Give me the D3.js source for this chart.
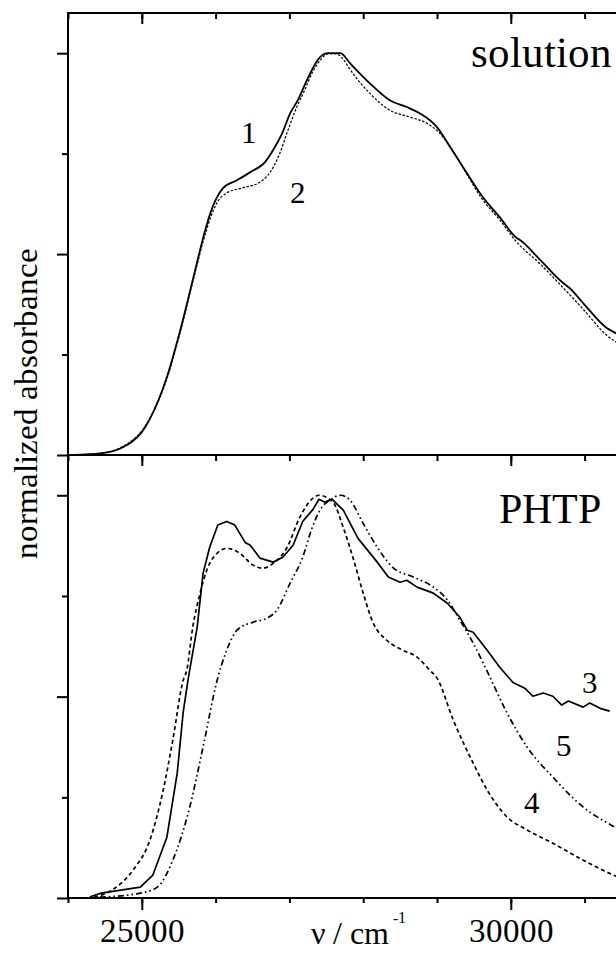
<!DOCTYPE html>
<html>
<head>
<meta charset="utf-8">
<script src="https://cdn.jsdelivr.net/npm/d3@7"></script>
<style>
  @font-face {
    font-family: "ChartSerif";
    src: local("Liberation Serif"), local("LiberationSerif"), local("LiberationSerif-Regular"),
         local("DejaVu Serif"), local("DejaVuSerif"), local("Times New Roman"), local("Tinos"),
         local("Noto Serif"), local("NotoSerif-Regular"), local("FreeSerif");
  }
  body { margin: 0; background: #fff; }
  svg { display: block; }
</style>
</head>
<body>
<svg id="chart" width="616" height="953"></svg>
<script>
// Wavenumber axis (cm^-1)
const xMajorTicks = [25000, 30000];
const xMinorTicks = d3.range(24000, 32001, 1000);
const yMajorTicks = [0, 0.5, 1.0];
const yMinorTicks = [0.25, 0.75];

// Panel titles and curve numbers
const panelTitles = ["solution", "PHTP"];
const curveNumbers = ["1", "2", "3", "4", "5"];

// Solution spectra: [wavenumber, normalized absorbance]
const solution1 = [
  [24000, 0], [24300, 0.002], [24600, 0.009], [24750, 0.02], [24880, 0.035],
  [25000, 0.057], [25110, 0.09], [25340, 0.194], [25520, 0.31], [25690, 0.435],
  [25860, 0.56], [25920, 0.597], [26100, 0.664], [26290, 0.684], [26470, 0.704],
  [26670, 0.729], [26780, 0.759], [26900, 0.80], [27010, 0.85], [27120, 0.885],
  [27230, 0.93], [27415, 0.99], [27520, 1.0], [27690, 1.0], [27820, 0.975],
  [28090, 0.925], [28360, 0.883], [28590, 0.866], [28770, 0.85], [29000, 0.816],
  [29180, 0.766], [29410, 0.70], [29620, 0.642], [29850, 0.592], [30080, 0.54],
  [30125, 0.535], [30400, 0.485], [30710, 0.428], [30800, 0.415], [30980, 0.378],
  [31300, 0.316], [31425, 0.303], [31700, 0.275]
];
const solution2 = [
  [24000, 0], [24300, 0.002], [24600, 0.010], [24750, 0.022], [24880, 0.038],
  [25000, 0.06], [25110, 0.092], [25340, 0.19], [25520, 0.305], [25690, 0.43],
  [25860, 0.55], [25930, 0.59], [26020, 0.628], [26150, 0.652], [26370, 0.665],
  [26600, 0.679], [26740, 0.704], [26870, 0.751], [26980, 0.808], [27100, 0.866],
  [27200, 0.905], [27320, 0.955], [27420, 0.983], [27520, 0.998], [27640, 0.998],
  [27740, 0.982], [27820, 0.96], [28090, 0.90], [28360, 0.858], [28630, 0.841],
  [28860, 0.826], [29040, 0.80], [29210, 0.759], [29400, 0.70], [29600, 0.64],
  [29850, 0.585], [30080, 0.53], [30400, 0.475], [30700, 0.418], [30980, 0.363],
  [31300, 0.298], [31425, 0.281], [31700, 0.25]
];

// PHTP film spectra
const phtp3 = [
  [24300, 0.003], [24450, 0.012], [24980, 0.027], [25150, 0.057], [25340, 0.151],
  [25480, 0.31], [25560, 0.46], [25630, 0.546], [25750, 0.672], [25830, 0.806],
  [25920, 0.871], [26030, 0.926], [26150, 0.935], [26260, 0.926], [26400, 0.883],
  [26470, 0.876], [26600, 0.844], [26780, 0.834], [26910, 0.846], [27050, 0.876],
  [27180, 0.935], [27320, 0.965], [27400, 0.99], [27480, 0.983], [27580, 0.99],
  [27730, 0.963], [27930, 0.893], [28190, 0.834], [28340, 0.797], [28500, 0.784],
  [28590, 0.789], [28730, 0.772], [28950, 0.757], [29140, 0.732], [29310, 0.697],
  [29410, 0.665], [29490, 0.66], [29680, 0.615], [29850, 0.573], [30030, 0.535],
  [30190, 0.521], [30300, 0.501], [30440, 0.509], [30570, 0.501], [30690, 0.479],
  [30780, 0.489], [30980, 0.474], [31070, 0.484], [31210, 0.471], [31340, 0.464]
];
const phtp4 = [
  [24260, 0.0], [24570, 0.017], [24880, 0.069], [25110, 0.144], [25290, 0.268],
  [25420, 0.392], [25560, 0.54], [25610, 0.566], [25690, 0.672], [25790, 0.757],
  [25880, 0.814], [26020, 0.856], [26150, 0.868], [26330, 0.856], [26510, 0.826],
  [26640, 0.819], [26780, 0.831], [26970, 0.871], [27140, 0.945], [27320, 0.993],
  [27400, 1.0], [27590, 0.983], [27730, 0.92], [27860, 0.846], [28000, 0.757],
  [28130, 0.685], [28320, 0.64], [28540, 0.615], [28730, 0.598], [28900, 0.566],
  [29000, 0.546], [29220, 0.442], [29490, 0.335], [29680, 0.268], [29950, 0.201],
  [30220, 0.169], [30570, 0.136], [30980, 0.094], [31390, 0.057], [31700, 0.035]
];
const phtp5 = [
  [24430, 0.002], [24980, 0.012], [25210, 0.027], [25420, 0.094], [25650, 0.226],
  [25830, 0.375], [26020, 0.54], [26150, 0.615], [26290, 0.665], [26510, 0.685],
  [26700, 0.695], [26830, 0.715], [27010, 0.782], [27180, 0.846], [27300, 0.915],
  [27420, 0.965], [27550, 0.988], [27690, 1.0], [27820, 0.988], [28000, 0.93],
  [28190, 0.871], [28400, 0.821], [28680, 0.797], [28950, 0.772], [29140, 0.74],
  [29310, 0.69], [29490, 0.633], [29700, 0.555], [29950, 0.459], [30220, 0.375],
  [30570, 0.30], [30980, 0.226], [31430, 0.174], [31700, 0.148]
];

const serifFont = "ChartSerif, 'Liberation Serif', 'LiberationSerif', 'Times New Roman', Times, Tinos, 'DejaVu Serif', 'Noto Serif', FreeSerif, serif";

const svg = d3.select("#chart").attr("font-family", serifFont);

const left = 68, right = 658.4;
const x = d3.scaleLinear().domain([24000, 32000]).range([left, right]);
const yTop = d3.scaleLinear().domain([0, 1.1]).range([455, 13]);
const yBot = d3.scaleLinear().domain([0, 1.1]).range([898, 455]);

const axisStroke = 2;

function styleAxis(g) {
  g.attr("font-family", serifFont);
  g.select(".domain").remove();
  g.selectAll(".tick line").attr("stroke", "#000").attr("stroke-width", axisStroke);
}

function addText(parent, str, px, py, size) {
  return parent.append("text")
    .attr("x", px).attr("y", py)
    .attr("font-family", serifFont)
    .attr("font-size", size)
    .attr("fill", "#000")
    .text(str);
}

// Horizontal tick rows (ticks pointing downward)
function xTickRow(yPos, minorLen, majorLen, withLabels) {
  const gMin = svg.append("g").attr("transform", `translate(0,${yPos})`)
    .call(d3.axisBottom(x).tickValues(xMinorTicks).tickSize(minorLen).tickFormat(""));
  styleAxis(gMin);
  const gMaj = svg.append("g").attr("transform", `translate(0,${yPos})`)
    .call(d3.axisBottom(x).tickValues(xMajorTicks).tickSize(majorLen)
      .tickFormat(withLabels ? d3.format("d") : ""));
  styleAxis(gMaj);
  if (withLabels) {
    gMaj.attr("font-size", 33);
    gMaj.selectAll(".tick text")
      .attr("y", 44).attr("dy", null)
      .attr("font-family", serifFont)
      .attr("font-size", 33)
      .attr("fill", "#000");
  }
}
xTickRow(13, 6, 11, false);
xTickRow(455, 6, 11, false);
xTickRow(898, 5, 12, true);

// Vertical tick columns on the left axis
function yTicks(scale) {
  const gMin = svg.append("g").attr("transform", `translate(${left},0)`)
    .call(d3.axisLeft(scale).tickValues(yMinorTicks).tickSize(6).tickFormat(""));
  styleAxis(gMin);
  const gMaj = svg.append("g").attr("transform", `translate(${left},0)`)
    .call(d3.axisLeft(scale).tickValues(yMajorTicks).tickSize(11).tickFormat(""));
  styleAxis(gMaj);
}
yTicks(yTop);
yTicks(yBot);

// Frame lines
const frame = svg.append("g").attr("stroke", "#000").attr("stroke-width", axisStroke).attr("fill", "none");
frame.append("line").attr("x1", left).attr("x2", right).attr("y1", yTop(1.1)).attr("y2", yTop(1.1));
frame.append("line").attr("x1", left).attr("x2", right).attr("y1", yTop(0)).attr("y2", yTop(0));
frame.append("line").attr("x1", left).attr("x2", right).attr("y1", yBot(0)).attr("y2", yBot(0));
frame.append("line").attr("x1", left).attr("x2", left).attr("y1", yTop(1.1) - 1).attr("y2", yBot(0) + 1);

// Clip regions for each panel
const defs = svg.append("defs");
defs.append("clipPath").attr("id", "clipTop").append("rect")
  .attr("x", left).attr("y", yTop(1.1)).attr("width", right - left).attr("height", yTop(0) - yTop(1.1));
defs.append("clipPath").attr("id", "clipBot").append("rect")
  .attr("x", left).attr("y", yBot(1.1)).attr("width", right - left).attr("height", yBot(0) - yBot(1.1));

function drawCurve(data, yScale, clip, width, dash, curve) {
  const line = d3.line().x(d => x(d[0])).y(d => yScale(d[1])).curve(curve);
  svg.append("path")
    .datum(data)
    .attr("clip-path", `url(#${clip})`)
    .attr("fill", "none")
    .attr("stroke", "#000")
    .attr("stroke-width", width)
    .attr("stroke-dasharray", dash)
    .attr("stroke-linejoin", "round")
    .attr("d", line);
}

drawCurve(solution2, yTop, "clipTop", 1.2, "2.5,1.6", d3.curveMonotoneX);
drawCurve(solution1, yTop, "clipTop", 1.8, null, d3.curveMonotoneX);

drawCurve(phtp4, yBot, "clipBot", 1.7, "4,3", d3.curveMonotoneX);
drawCurve(phtp5, yBot, "clipBot", 1.7, "6,3,1.6,3,1.6,3", d3.curveMonotoneX);
drawCurve(phtp3, yBot, "clipBot", 1.7, null, d3.curveLinear);

// Panel titles
addText(svg, panelTitles[0], 471, 67, 43);
addText(svg, panelTitles[1], 499, 523, 42);

// Curve numbers
const numPos = [[241, 143], [290, 203], [582, 693], [524, 813], [556, 756]];
curveNumbers.forEach((n, i) => addText(svg, n, numPos[i][0], numPos[i][1], 31));

// Axis titles
addText(svg, "normalized absorbance", 0, 0, 33)
  .attr("transform", "translate(37,403) rotate(-90)")
  .attr("text-anchor", "middle");

const xt = addText(svg, "", 311, 944, 32);
xt.append("tspan").text("ν / cm");
xt.append("tspan").attr("x", 393).attr("y", 923).attr("font-size", 16).text("-1");
</script>
</body>
</html>
